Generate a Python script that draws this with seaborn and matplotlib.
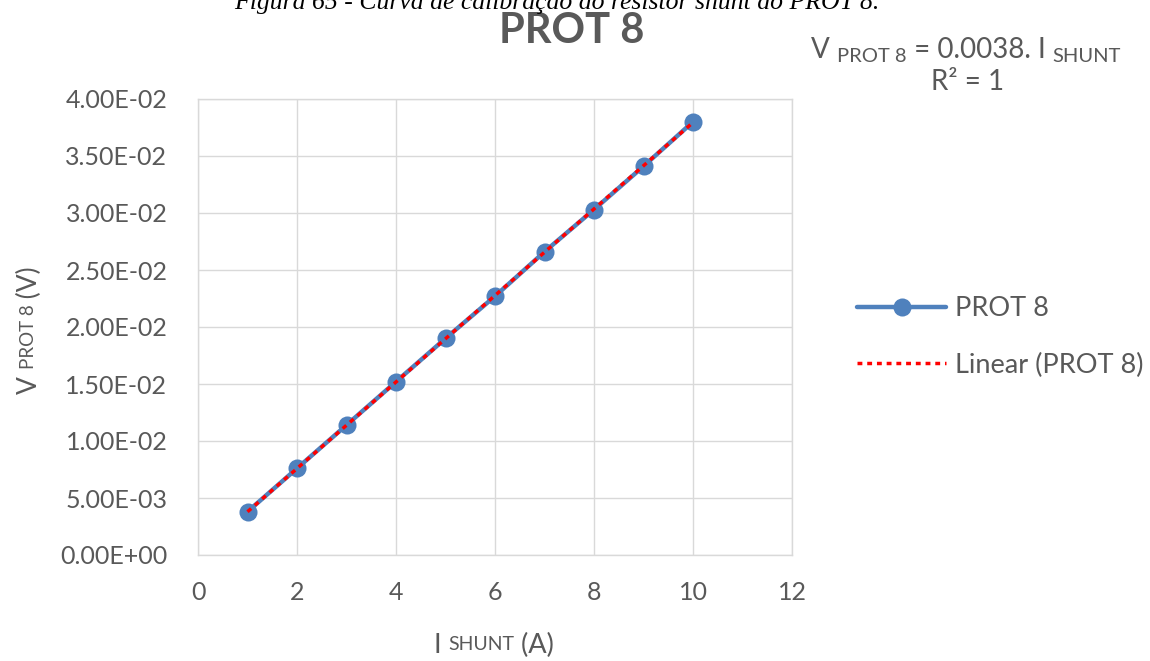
import numpy as np
import pandas as pd
import seaborn as sns
import matplotlib.pyplot as plt

# data
i_shunt = [1, 2, 3, 4, 5, 6, 7, 8, 9, 10]
v_prot8 = [0.0038, 0.0076, 0.0114, 0.0152, 0.0190, 0.0227, 0.0266, 0.0303, 0.0341, 0.0380]
x_ticks = [0, 2, 4, 6, 8, 10, 12]
y_ticks = [0.0, 0.005, 0.010, 0.015, 0.020, 0.025, 0.030, 0.035, 0.040]
y_tick_labels = ["0.00E+00", "5.00E-03", "1.00E-02", "1.50E-02", "2.00E-02",
                 "2.50E-02", "3.00E-02", "3.50E-02", "4.00E-02"]
series_name = "PROT 8"
trend_name = "Linear (PROT 8)"
caption = "Figura 65 - Curva de calibração do resistor shunt do PROT 8."

W, H = 1150, 661
grey = "#595959"
blue = "#4F81BD"

sns.set_theme(style="whitegrid")
plt.rcParams["font.family"] = ["Lato", "DejaVu Sans"]

fig = plt.figure(figsize=(W / 100, H / 100), dpi=100)
ax = fig.add_axes([198 / W, 1 - 555 / H, 594 / W, 456 / H])

df = pd.DataFrame({"I": i_shunt, "V": v_prot8})
sns.lineplot(data=df, x="I", y="V", ax=ax, color=blue, linewidth=3.2,
             marker="o", markersize=13, markeredgewidth=0, legend=False)

# trendline through origin (Excel: set intercept = 0)
x = np.array(i_shunt, dtype=float)
y = np.array(v_prot8)
slope = (x * y).sum() / (x * x).sum()
xs = np.array([x.min(), x.max()])
ax.plot(xs, slope * xs, color="#FF0000", linewidth=2.5,
        linestyle=(0, (1.4, 1.4)), zorder=5)

ax.set_xlim(0, 12)
ax.set_ylim(0, 0.04)
ax.set_xticks(x_ticks)
ax.set_yticks(y_ticks)
ax.set_yticklabels(y_tick_labels)
ax.set_xlabel("")
ax.set_ylabel("")
ax.tick_params(axis="both", length=0, labelsize=18, labelcolor=grey)
ax.tick_params(axis="y", pad=22)
ax.tick_params(axis="x", pad=19)
ax.grid(True, color="#D9D9D9", linewidth=1.0)
for s in ax.spines.values():
    s.set_color("#D9D9D9")
    s.set_linewidth(1.0)

lines = ax.get_lines()
fig.legend([lines[0], lines[-1]], [series_name, trend_name],
           loc="center left", bbox_to_anchor=(857 / W, 1 - 337 / H),
           frameon=False, fontsize=19.5, labelcolor=grey,
           handlelength=3.3, handletextpad=0.33, labelspacing=1.15,
           borderpad=0, borderaxespad=0)

renderer = fig.canvas.get_renderer()


def text_run(parts, cx, cy, rotation=0):
    """parts: (text, size, shift px); cx, cy in px from top-left.
    horizontal runs are centred on cx with baseline at cy;
    rotated runs are centred on cy with baseline at x = cx."""
    items = []
    total = 0
    for s, size, shift in parts:
        t = fig.text(0, 0, s, fontsize=size, color=grey, rotation=rotation,
                     rotation_mode="anchor", ha="left", va="baseline")
        bb = t.get_window_extent(renderer)
        w = bb.width if rotation == 0 else bb.height
        items.append((t, w, shift))
        total += w
    if rotation == 0:
        pos = cx - total / 2
        for t, w, shift in items:
            t.set_position((pos / W, 1 - (cy + shift) / H))
            pos += w
    else:
        pos = cy + total / 2
        for t, w, shift in items:
            t.set_position(((cx + shift) / W, 1 - pos / H))
            pos -= w


# axis titles with small-caps style sub parts
text_run([("V ", 19, 0), ("PROT 8", 13.5, -3), (" (V)", 19, 0)], 37, 330, rotation=90)
text_run([("I ", 19.5, 0), ("SHUNT", 14, -3), (" (A)", 19.5, 0)], 494, 653)

# trendline equation
text_run([("V ", 20, 0), ("PROT 8", 14.5, 4), (" = 0.0038. I ", 20, 0), ("SHUNT", 14.5, 4)], 966, 58)
text_run([("R² = 1", 20, 0)], 968, 90)

# chart title
fig.text(572 / W, 1 - 43 / H, "PROT 8", ha="center", va="baseline",
         fontsize=30, fontweight="bold", color=grey)

# figure caption cut off at the top of the image
fig.text(557 / W, 1 - 9 / H, caption, ha="center", va="baseline", fontsize=18.5,
         fontstyle="italic", family=["Liberation Serif", "DejaVu Serif"], color="black")

fig.savefig("out.png", dpi=100)
